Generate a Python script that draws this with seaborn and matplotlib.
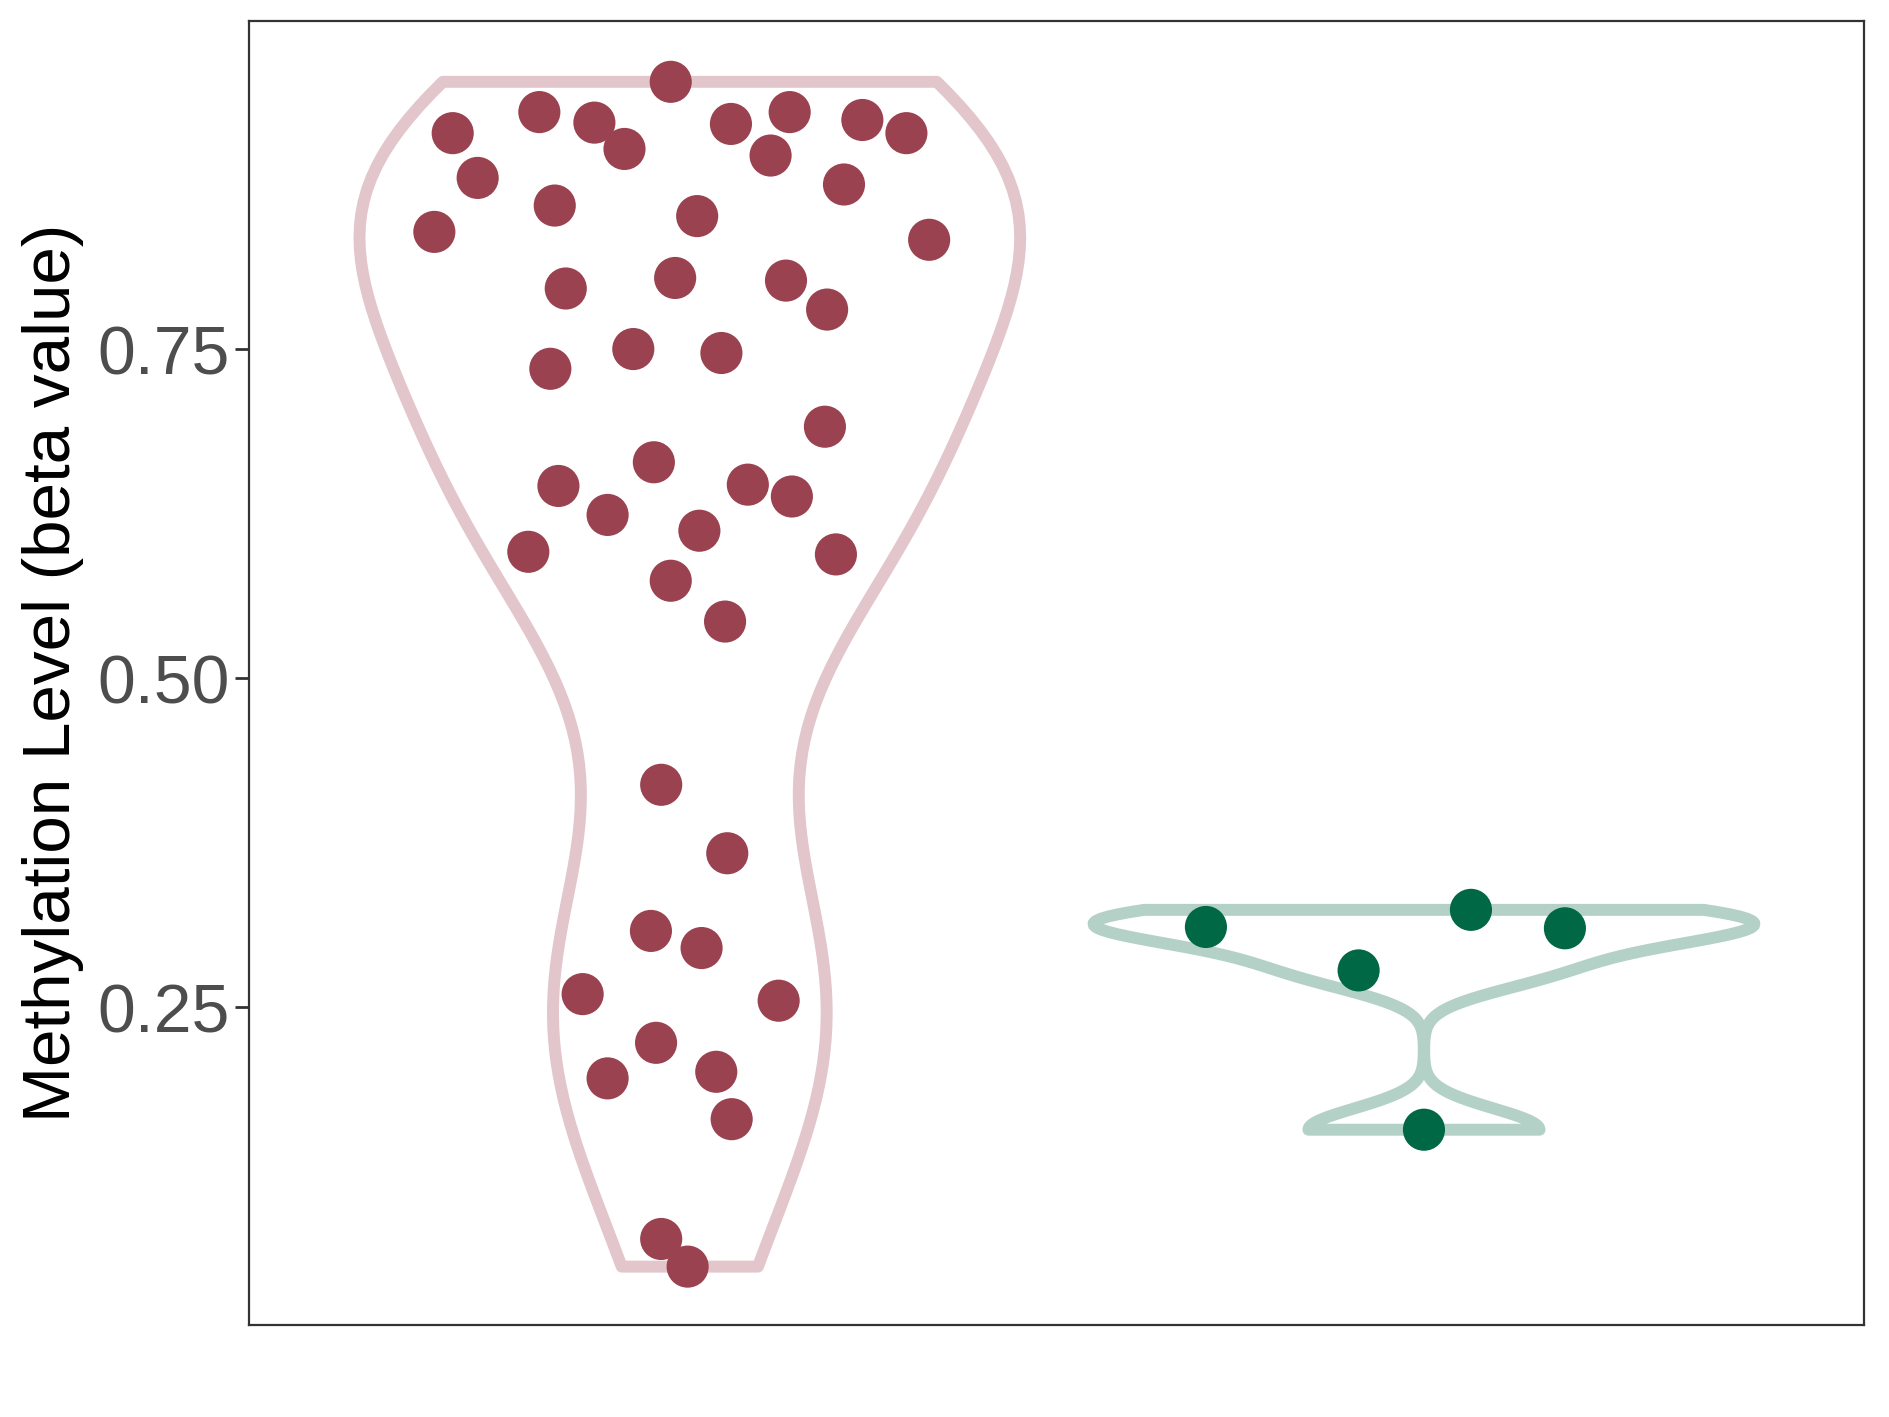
import numpy as np
import pandas as pd
import seaborn as sns
import matplotlib.pyplot as plt

# groups (x axis carries no labels in the reference)
groups = ["Tumor", "Normal"]

# beta values
tumor_vals = [0.953, 0.914, 0.930, 0.922, 0.902, 0.921, 0.930, 0.924, 0.914, 0.880,
              0.897, 0.875, 0.859, 0.851, 0.839, 0.833, 0.796, 0.804, 0.802, 0.780,
              0.750, 0.747, 0.735, 0.691, 0.664, 0.646, 0.647, 0.638, 0.624, 0.612,
              0.596, 0.594, 0.574, 0.543, 0.419, 0.367, 0.308, 0.295, 0.260, 0.255,
              0.223, 0.201, 0.196, 0.165, 0.074, 0.053]
normal_vals = [0.311, 0.324, 0.310, 0.278, 0.157]

# horizontal jitter of each point (category units), as seen in the picture
tumor_jitter = [-0.026, -0.323, -0.205, -0.130, -0.089, 0.056, 0.136, 0.235, 0.295, -0.289,
                0.110, 0.210, -0.184, 0.010, -0.348, 0.326, -0.169, -0.020, 0.131, 0.187,
                -0.077, 0.043, -0.190, 0.184, -0.049, -0.179, 0.079, 0.139, -0.112, 0.013,
                -0.220, 0.199, -0.026, 0.048, -0.039, 0.051, -0.053, 0.016, -0.146, 0.121,
                -0.046, 0.036, -0.112, 0.057, -0.039, -0.003]
normal_jitter = [-0.297, 0.064, 0.192, -0.089, 0.000]

line_colors = ["#E2C6CC", "#B4D1C7"]
dot_colors = ["#9A4250", "#006845"]

y_ticks = [0.25, 0.50, 0.75]

df = pd.DataFrame({
    "group": [groups[0]] * len(tumor_vals) + [groups[1]] * len(normal_vals),
    "beta": tumor_vals + normal_vals,
    "jit": tumor_jitter + normal_jitter,
})
df["xpos"] = df["group"].map({g: i for i, g in enumerate(groups)}) + df["jit"]


def nrd0_factor(v):
    # R's bw.nrd0 expressed as a scipy gaussian_kde factor
    v = np.asarray(v)
    sd = v.std(ddof=1)
    iqr = np.subtract(*np.percentile(v, [75, 25]))
    bw = 0.9 * min(sd, iqr / 1.34) * len(v) ** -0.2
    return bw / sd


sns.set_style("white")
plt.rcParams["font.family"] = ["Liberation Sans", "DejaVu Sans"]

fig = plt.figure(figsize=(18.89, 14.17), dpi=100)
ax = fig.add_axes([0.132, 0.0646, 0.855, 0.9204])

for i, g in enumerate(groups):
    sub = df[df["group"] == g]
    sns.violinplot(data=sub, x="group", y="beta", order=groups, ax=ax,
                   cut=0, inner=None, fill=False, density_norm="width", width=0.9,
                   bw_method=nrd0_factor(sub["beta"]), color=line_colors[i],
                   linewidth=8.6)
    sns.scatterplot(x=sub["xpos"], y=sub["beta"], ax=ax, s=920,
                    color=dot_colors[i], edgecolor="none", zorder=5)

ax.set_xlim(-0.6, 1.6)
ax.set_ylim(0.0083, 0.999)
ax.set_xticks([])
ax.set_yticks(y_ticks)
ax.set_yticklabels([f"{t:.2f}" for t in y_ticks])
ax.tick_params(axis="y", labelsize=49, labelcolor="#4D4D4D", color="#333333",
               length=10, width=2, left=True, pad=4)
ax.set_xlabel("")
ax.set_ylabel("Methylation Level (beta value)", fontsize=48.5, color="black", labelpad=10)
for sp in ax.spines.values():
    sp.set_color("#333333")
    sp.set_linewidth(1.6)

fig.savefig("out.png", dpi=100)
